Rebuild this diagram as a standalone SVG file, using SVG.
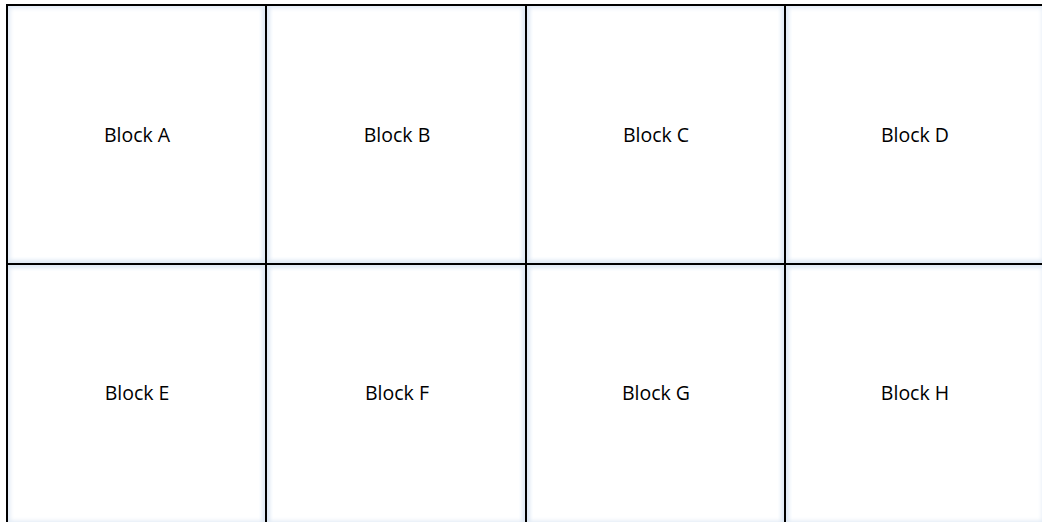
<svg xmlns="http://www.w3.org/2000/svg" width="1042" height="522" viewBox="0 0 1042 522">
  <style>
    .box { fill: none; stroke: #000000; stroke-width: 2; }
    .glow { fill: none; stroke: #dfe9f5; stroke-width: 6; filter: url(#blur); }
    .lbl { font-family: "Open Sans", "Liberation Sans", sans-serif; font-size: 19.5px; fill: #000000; text-anchor: middle; }
  </style>
  <defs>
    <filter id="blur" x="-5%" y="-5%" width="110%" height="110%">
      <feGaussianBlur stdDeviation="2"/>
    </filter>
    <clipPath id="area">
      <rect x="7" y="5" width="1040" height="520"/>
    </clipPath>
  </defs>
  <rect x="0" y="0" width="1042" height="522" fill="#ffffff"/>
  <g clip-path="url(#area)">
    <rect class="glow" x="7" y="5" width="259" height="259"/>
    <rect class="glow" x="266" y="5" width="260" height="259"/>
    <rect class="glow" x="526" y="5" width="259" height="259"/>
    <rect class="glow" x="785" y="5" width="260" height="259"/>
    <rect class="glow" x="7" y="264" width="259" height="260"/>
    <rect class="glow" x="266" y="264" width="260" height="260"/>
    <rect class="glow" x="526" y="264" width="259" height="260"/>
    <rect class="glow" x="785" y="264" width="260" height="260"/>
  </g>
  <g id="block-a">
    <rect class="box" x="7" y="5" width="259" height="259"/>
    <text class="lbl" x="137" y="142">Block A</text>
  </g>
  <g id="block-b">
    <rect class="box" x="266" y="5" width="260" height="259"/>
    <text class="lbl" x="397" y="142">Block B</text>
  </g>
  <g id="block-c">
    <rect class="box" x="526" y="5" width="259" height="259"/>
    <text class="lbl" x="656" y="142">Block C</text>
  </g>
  <g id="block-d">
    <rect class="box" x="785" y="5" width="260" height="259"/>
    <text class="lbl" x="915" y="142">Block D</text>
  </g>
  <g id="block-e">
    <rect class="box" x="7" y="264" width="259" height="260"/>
    <text class="lbl" x="137" y="400">Block E</text>
  </g>
  <g id="block-f">
    <rect class="box" x="266" y="264" width="260" height="260"/>
    <text class="lbl" x="397" y="400">Block F</text>
  </g>
  <g id="block-g">
    <rect class="box" x="526" y="264" width="259" height="260"/>
    <text class="lbl" x="656" y="400">Block G</text>
  </g>
  <g id="block-h">
    <rect class="box" x="785" y="264" width="260" height="260"/>
    <text class="lbl" x="915" y="400">Block H</text>
  </g>
  <g id="connectors"></g>
</svg>
